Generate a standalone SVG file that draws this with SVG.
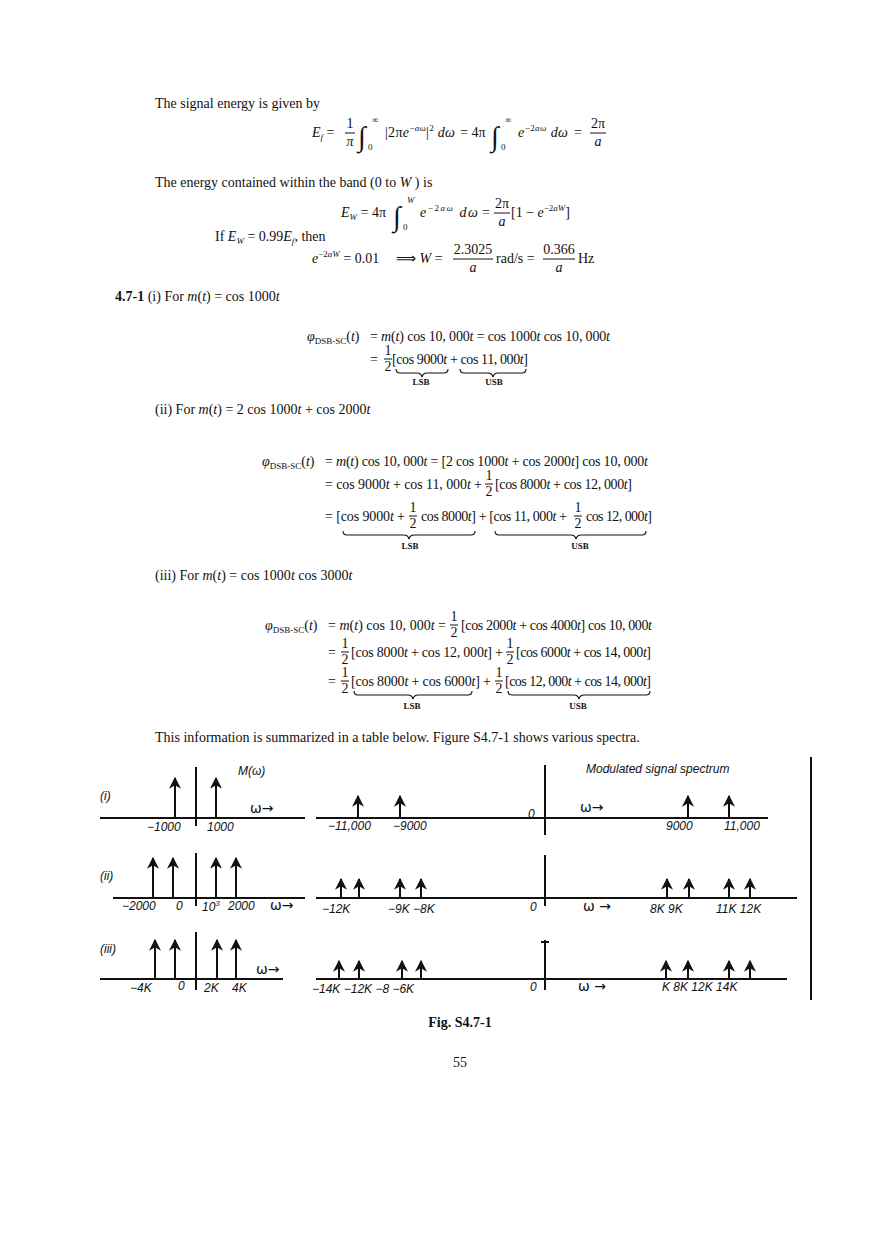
<svg xmlns="http://www.w3.org/2000/svg" width="880" height="1247" viewBox="0 0 880 1247">
<style>
.t{font-family:"Liberation Serif",serif;font-size:14px;fill:#111}
.i{font-style:italic}
.s{font-size:9px}
.b{font-weight:bold}
.c{text-anchor:middle}
.big{font-size:28px}
.h{font-family:"Liberation Sans",sans-serif;font-style:italic;font-size:12px;fill:#111}
.w{font-family:"DejaVu Sans",sans-serif;font-size:14px;fill:#111}
.ax{stroke:#111;stroke-width:2;fill:none}
.br{stroke:#111;stroke-width:1.1;fill:none}
.ln{stroke:#111;stroke-width:1;fill:none}
</style>
<defs>
<marker id="ah" viewBox="0 0 10 10" refX="9" refY="5" markerWidth="6" markerHeight="6" orient="auto"><path d="M0,0 L10,5 L0,10 L3,5 Z" fill="#111"/></marker>
</defs>
<rect width="880" height="1247" fill="#fff"/>
<g id="text">
<text class="t" x="155" y="108">The signal energy is given by</text>
<text class="t" x="312" y="137"><tspan class="i">E</tspan><tspan class="i s" dy="3">f</tspan><tspan dy="-3"> =</tspan></text>
<text class="t c" x="350" y="128">1</text><line class="ln" x1="345" y1="133" x2="355" y2="133"/><text class="t i c" x="350" y="146">π</text>
<text class="t big" x="358" y="146">∫</text><text class="t s" x="372" y="123">∞</text><text class="t s" x="368" y="150">0</text>
<text class="t" x="385" y="137" textLength="70" lengthAdjust="spacing">|2π<tspan class="i">e</tspan><tspan class="s" dy="-6">−</tspan><tspan class="s i">aω</tspan><tspan dy="6">|</tspan><tspan class="s" dy="-6">2</tspan><tspan dy="6"> </tspan><tspan class="i">dω</tspan></text>
<text class="t" x="460" y="137">= 4π</text>
<text class="t big" x="491" y="146">∫</text><text class="t s" x="505" y="123">∞</text><text class="t s" x="501" y="150">0</text>
<text class="t" x="518" y="137" textLength="50" lengthAdjust="spacing"><tspan class="i">e</tspan><tspan class="s" dy="-6">−2</tspan><tspan class="s i">aω</tspan><tspan dy="6" class="i"> dω</tspan></text>
<text class="t" x="574" y="137">=</text>
<text class="t c" x="598" y="128">2π</text><line class="ln" x1="590" y1="133" x2="606" y2="133"/><text class="t i c" x="598" y="146">a</text>
<text class="t" x="155" y="187">The energy contained within the band (0 to <tspan class="i">W</tspan> ) is</text>
<text class="t" x="341" y="217"><tspan class="i">E</tspan><tspan class="i s" dy="3">W</tspan><tspan dy="-3"> = 4π</tspan></text>
<text class="t big" x="393" y="226">∫</text><text class="t s i" x="407" y="203">W</text><text class="t s" x="403" y="230">0</text>
<text class="t" x="420" y="217" textLength="58" lengthAdjust="spacing"><tspan class="i">e</tspan><tspan class="s" dy="-6">−2</tspan><tspan class="s i">aω</tspan><tspan dy="6" class="i"> dω</tspan></text>
<text class="t" x="482" y="217">=</text>
<text class="t c" x="502" y="208">2π</text><line class="ln" x1="494" y1="213" x2="510" y2="213"/><text class="t i c" x="502" y="226">a</text>
<text class="t" x="511" y="217">[1 − <tspan class="i">e</tspan><tspan class="s" dy="-6">−2</tspan><tspan class="s i">aW</tspan><tspan dy="6">]</tspan></text>
<text class="t" x="215" y="241">If <tspan class="i">E</tspan><tspan class="i s" dy="3">W</tspan><tspan dy="-3"> = 0.99</tspan><tspan class="i">E</tspan><tspan class="i s" dy="3">f</tspan><tspan dy="-3">, then</tspan></text>
<text class="t" x="312" y="263"><tspan class="i">e</tspan><tspan class="s" dy="-6">−2</tspan><tspan class="s i">aW</tspan><tspan dy="6"> = 0.01</tspan></text>
<text class="t" x="396" y="263">⟹ <tspan class="i">W</tspan> =</text>
<text class="t c" x="473" y="254">2.3025</text><line class="ln" x1="453" y1="259" x2="493" y2="259"/><text class="t i c" x="473" y="272">a</text>
<text class="t" x="496" y="263">rad/s =</text>
<text class="t c" x="559" y="254">0.366</text><line class="ln" x1="543" y1="259" x2="575" y2="259"/><text class="t i c" x="559" y="272">a</text>
<text class="t" x="578" y="263">Hz</text>
<text class="t" x="115" y="301"><tspan class="b">4.7-1</tspan>  (i)  For <tspan class="i">m</tspan>(<tspan class="i">t</tspan>) = cos 1000<tspan class="i">t</tspan></text>

<text class="t" x="307" y="341"><tspan class="i">φ</tspan><tspan class="s" dy="3">DSB-SC</tspan><tspan dy="-3">(</tspan><tspan class="i">t</tspan>)</text>
<text class="t" x="370" y="341" textLength="240" lengthAdjust="spacing">= <tspan class="i">m</tspan>(<tspan class="i">t</tspan>) cos 10, 000<tspan class="i">t</tspan> = cos 1000<tspan class="i">t</tspan> cos 10, 000<tspan class="i">t</tspan></text>
<text class="t" x="370" y="364">=</text>
<text class="t c" x="388" y="355">1</text><line class="ln" x1="384" y1="359" x2="392" y2="359"/><text class="t c" x="388" y="371">2</text>
<text class="t" x="392" y="364" textLength="136" lengthAdjust="spacing">[cos 9000<tspan class="i">t</tspan> + cos 11, 000<tspan class="i">t</tspan>]</text>
<text class="t s b c" x="421" y="385">LSB</text><text class="t s b c" x="494" y="385">USB</text>

<text class="t" x="155" y="414">(ii)  For <tspan class="i">m</tspan>(<tspan class="i">t</tspan>) = 2 cos 1000<tspan class="i">t</tspan> + cos 2000<tspan class="i">t</tspan></text>
<text class="t" x="262" y="466"><tspan class="i">φ</tspan><tspan class="s" dy="3">DSB-SC</tspan><tspan dy="-3">(</tspan><tspan class="i">t</tspan>)</text>
<text class="t" x="325" y="466" textLength="323" lengthAdjust="spacing">= <tspan class="i">m</tspan>(<tspan class="i">t</tspan>) cos 10, 000<tspan class="i">t</tspan> = [2 cos 1000<tspan class="i">t</tspan> + cos 2000<tspan class="i">t</tspan>] cos 10, 000<tspan class="i">t</tspan></text>
<text class="t" x="325" y="489" textLength="157" lengthAdjust="spacing">= cos 9000<tspan class="i">t</tspan> + cos 11, 000<tspan class="i">t</tspan> +</text>
<text class="t c" x="489" y="480">1</text><line class="ln" x1="485" y1="484" x2="493" y2="484"/><text class="t c" x="489" y="496">2</text>
<text class="t" x="495" y="489" textLength="137" lengthAdjust="spacing">[cos 8000<tspan class="i">t</tspan> + cos 12, 000<tspan class="i">t</tspan>]</text>
<text class="t" x="325" y="521" textLength="80" lengthAdjust="spacing">= [cos 9000<tspan class="i">t</tspan> +</text>
<text class="t c" x="413" y="512">1</text><line class="ln" x1="409" y1="516" x2="417" y2="516"/><text class="t c" x="413" y="528">2</text>
<text class="t" x="421" y="521" textLength="146" lengthAdjust="spacing">cos 8000<tspan class="i">t</tspan>] + [cos 11, 000<tspan class="i">t</tspan> +</text>
<text class="t c" x="578" y="512">1</text><line class="ln" x1="574" y1="516" x2="582" y2="516"/><text class="t c" x="578" y="528">2</text>
<text class="t" x="586" y="521" textLength="66" lengthAdjust="spacing">cos 12, 000<tspan class="i">t</tspan>]</text>
<text class="t s b c" x="410" y="549">LSB</text><text class="t s b c" x="580" y="549">USB</text>

<text class="t" x="155" y="580">(iii)  For <tspan class="i">m</tspan>(<tspan class="i">t</tspan>) = cos 1000<tspan class="i">t</tspan> cos 3000<tspan class="i">t</tspan></text>
<text class="t" x="265" y="630"><tspan class="i">φ</tspan><tspan class="s" dy="3">DSB-SC</tspan><tspan dy="-3">(</tspan><tspan class="i">t</tspan>)</text>
<text class="t" x="328" y="630" textLength="118" lengthAdjust="spacing">= <tspan class="i">m</tspan>(<tspan class="i">t</tspan>) cos 10, 000<tspan class="i">t</tspan> =</text>
<text class="t c" x="454" y="621">1</text><line class="ln" x1="450" y1="625" x2="458" y2="625"/><text class="t c" x="454" y="637">2</text>
<text class="t" x="461" y="630" textLength="191" lengthAdjust="spacing">[cos 2000<tspan class="i">t</tspan> + cos 4000<tspan class="i">t</tspan>] cos 10, 000<tspan class="i">t</tspan></text>
<text class="t" x="328" y="657">=</text>
<text class="t c" x="345" y="648">1</text><line class="ln" x1="341" y1="652" x2="349" y2="652"/><text class="t c" x="345" y="664">2</text>
<text class="t" x="351" y="657" textLength="152" lengthAdjust="spacing">[cos 8000<tspan class="i">t</tspan> + cos 12, 000<tspan class="i">t</tspan>] +</text>
<text class="t c" x="510" y="648">1</text><line class="ln" x1="506" y1="652" x2="514" y2="652"/><text class="t c" x="510" y="664">2</text>
<text class="t" x="516" y="657" textLength="135" lengthAdjust="spacing">[cos 6000<tspan class="i">t</tspan> + cos 14, 000<tspan class="i">t</tspan>]</text>
<text class="t" x="328" y="686">=</text>
<text class="t c" x="345" y="677">1</text><line class="ln" x1="341" y1="681" x2="349" y2="681"/><text class="t c" x="345" y="693">2</text>
<text class="t" x="351" y="686" textLength="140" lengthAdjust="spacing">[cos 8000<tspan class="i">t</tspan> + cos 6000<tspan class="i">t</tspan>] +</text>
<text class="t c" x="499" y="677">1</text><line class="ln" x1="495" y1="681" x2="503" y2="681"/><text class="t c" x="499" y="693">2</text>
<text class="t" x="505" y="686" textLength="146" lengthAdjust="spacing">[cos 12, 000<tspan class="i">t</tspan> + cos 14, 000<tspan class="i">t</tspan>]</text>
<text class="t s b c" x="412" y="709">LSB</text><text class="t s b c" x="578" y="709">USB</text>

<text class="t" x="155" y="742">This information is summarized in a table below. Figure S4.7-1 shows various spectra.</text>
<text class="t b c" x="460" y="1027" font-size="12">Fig. S4.7-1</text>
<text class="t c" x="460" y="1067">55</text>
</g>
<g id="braces">
<path class="br" d="M396,369 q0,4 4,4 h17 q4,0 5,4 q1,-4 5,-4 h17 q4,0 4,-4"/>
<path class="br" d="M460,369 q0,4 4,4 h24 q4,0 5,4 q1,-4 5,-4 h24 q4,0 4,-4"/>
<path class="br" d="M343,531 q0,4 4,4 h57 q4,0 5,4 q1,-4 5,-4 h57 q4,0 4,-4"/>
<path class="br" d="M495,531 q0,4 4,4 h72 q4,0 5,4 q1,-4 5,-4 h61 q4,0 4,-4"/>
<path class="br" d="M354,691 q0,4 4,4 h50 q4,0 5,4 q1,-4 5,-4 h50 q4,0 4,-4"/>
<path class="br" d="M508,691 q0,4 4,4 h62 q4,0 5,4 q1,-4 5,-4 h62 q4,0 4,-4"/>
</g>
<g id="figure">
<line class="ax" x1="100" y1="818" x2="305" y2="818"/>
<line class="ax" x1="196" y1="767" x2="196" y2="826"/>
<line class="ax" x1="316" y1="818" x2="768" y2="818"/>
<line class="ax" x1="545" y1="765" x2="545" y2="835"/>
<line class="ax" x1="811" y1="757" x2="811" y2="1000"/>
<line class="ax" x1="113" y1="898" x2="305" y2="898"/>
<line class="ax" x1="196" y1="853" x2="196" y2="906"/>
<line class="ax" x1="316" y1="898" x2="797" y2="898"/>
<line class="ax" x1="545" y1="855" x2="545" y2="906"/>
<line class="ax" x1="100" y1="979" x2="283" y2="979"/>
<line class="ax" x1="196" y1="932" x2="196" y2="990"/>
<line class="ax" x1="316" y1="979" x2="787" y2="979"/>
<line class="ax" x1="545" y1="940" x2="545" y2="990"/>
<line class="ax" x1="541" y1="942" x2="549" y2="942"/>
</g>
<g id="connectors" stroke="#111" stroke-width="2" marker-end="url(#ah)">
<line x1="175" y1="818" x2="175" y2="778"/><line x1="216" y1="818" x2="216" y2="778"/>
<line x1="358" y1="818" x2="358" y2="796"/><line x1="400" y1="818" x2="400" y2="796"/>
<line x1="688" y1="818" x2="688" y2="796"/><line x1="729" y1="818" x2="729" y2="796"/>
<line x1="153" y1="898" x2="153" y2="858"/><line x1="173" y1="898" x2="173" y2="858"/>
<line x1="216" y1="898" x2="216" y2="858"/><line x1="236" y1="898" x2="236" y2="858"/>
<line x1="341" y1="898" x2="341" y2="879"/><line x1="359" y1="898" x2="359" y2="879"/>
<line x1="400" y1="898" x2="400" y2="879"/><line x1="421" y1="898" x2="421" y2="879"/>
<line x1="667" y1="898" x2="667" y2="879"/><line x1="689" y1="898" x2="689" y2="879"/>
<line x1="729" y1="898" x2="729" y2="879"/><line x1="750" y1="898" x2="750" y2="879"/>
<line x1="155" y1="979" x2="155" y2="940"/><line x1="175" y1="979" x2="175" y2="940"/>
<line x1="217" y1="979" x2="217" y2="940"/><line x1="236" y1="979" x2="236" y2="940"/>
<line x1="339" y1="979" x2="339" y2="961"/><line x1="359" y1="979" x2="359" y2="961"/>
<line x1="402" y1="979" x2="402" y2="961"/><line x1="421" y1="979" x2="421" y2="961"/>
<line x1="666" y1="979" x2="666" y2="961"/><line x1="688" y1="979" x2="688" y2="961"/>
<line x1="729" y1="979" x2="729" y2="961"/><line x1="750" y1="979" x2="750" y2="961"/>
</g>
<g id="labels">
<text class="h" x="100" y="800" font-size="18">(i)</text>
<text class="h" x="100" y="880" font-size="15">(ii)</text>
<text class="h" x="100" y="953" font-size="16">(iii)</text>
<text class="h" x="238" y="775" font-size="14">M(ω)</text>
<text class="w" x="250" y="813">ω→</text>
<text class="h" x="147" y="831" font-size="11">−1000</text><text class="h" x="207" y="831" font-size="11">1000</text>
<text class="h" x="328" y="830" font-size="11">−11,000</text><text class="h" x="393" y="830" font-size="11">−9000</text>
<text class="h" x="528" y="818" font-size="15">0</text>
<text class="w" x="580" y="812" font-size="17">ω→</text>
<text class="h" x="666" y="830" font-size="11">9000</text><text class="h" x="724" y="830" font-size="11">11,000</text>
<text class="h" x="586" y="773" font-size="13">Modulated signal spectrum</text>
<text class="h" x="122" y="910" font-size="10">−2000</text><text class="h" x="176" y="910" font-size="11">0</text>
<text class="h" x="202" y="911" font-size="11">10<tspan dy="-5" font-size="8">3</tspan></text><text class="h" x="228" y="910" font-size="10">2000</text>
<text class="w" x="270" y="910" font-size="13">ω→</text>
<text class="h" x="322" y="913" font-size="12">−12K</text><text class="h" x="388" y="913" font-size="12">−9K −8K</text>
<text class="h" x="530" y="911" font-size="12">0</text><text class="w" x="583" y="911" font-size="13">ω →</text>
<text class="h" x="650" y="913" font-size="11">8K 9K</text><text class="h" x="716" y="913" font-size="11">11K 12K</text>
<text class="h" x="130" y="992" font-size="12">−4K</text><text class="h" x="178" y="990" font-size="12">0</text>
<text class="h" x="204" y="992" font-size="12">2K</text><text class="h" x="232" y="992" font-size="12">4K</text>
<text class="w" x="256" y="974" font-size="12">ω→</text>
<text class="h" x="312" y="993" font-size="11">−14K −12K −8  −6K</text>
<text class="h" x="530" y="991" font-size="12">0</text><text class="w" x="578" y="991" font-size="13">ω →</text>
<text class="h" x="662" y="991" font-size="11">K  8K   12K  14K</text>
</g>
</svg>
